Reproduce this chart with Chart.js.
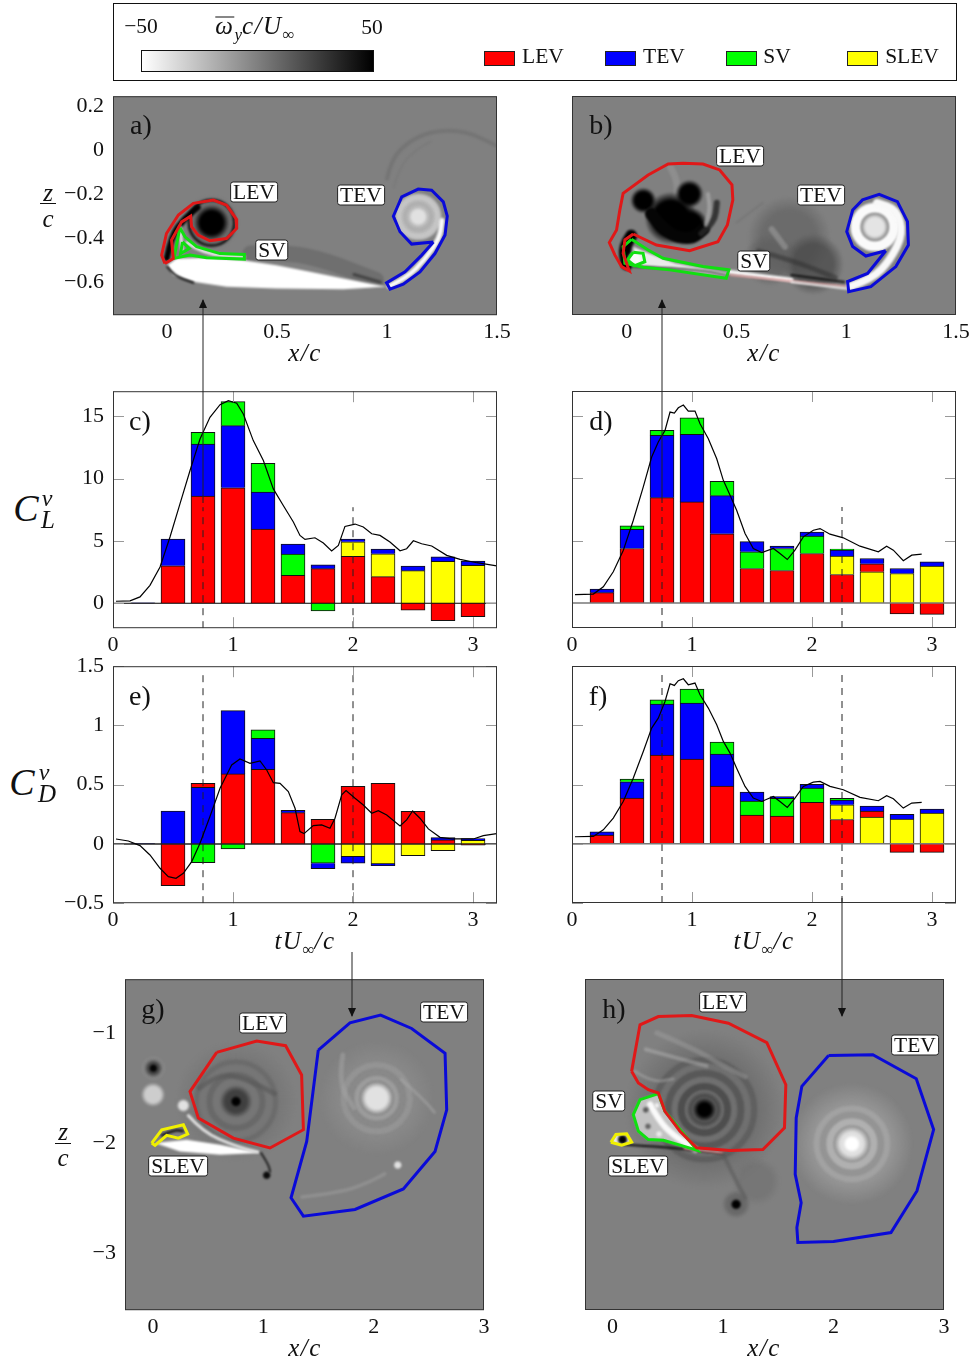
<!DOCTYPE html>
<html>
<head>
<meta charset="utf-8">
<title>Vortex contributions to lift and drag</title>
<script src="https://cdn.jsdelivr.net/npm/chart.js@4"></script>
<style>
html, body { margin: 0; padding: 0; background: #fff; }
#page { position: relative; width: 975px; height: 1364px; overflow: hidden; font-family: 'Liberation Serif', serif; color: #111; }
canvas { position: absolute; }
.t { position: absolute; transform: translate(-50%, -50%); white-space: nowrap; font-size: 21.5px; line-height: 1; }
.i { font-style: italic; }
.math { font-size: 25px; letter-spacing: 1.5px; }
.math sub { font-size: 17px; letter-spacing: 0; }
.bar-over { display: inline-block; border-top: 1px solid #111; line-height: 0.62em; padding-bottom: 2px; }
.tag { position: absolute; transform: translate(-50%, -50%); background: #fff; border: 1px solid #222; border-radius: 3px; padding: 0 2px; font-size: 21.5px; line-height: 19px; white-space: nowrap; }
.letter { font-size: 28px; }
sub { line-height: 0; }
#legend { position: absolute; left: 113px; top: 3px; width: 842px; height: 76px; border: 1px solid #111; }
#bar { position: absolute; left: 141px; top: 50px; width: 231px; height: 20px; border: 1px solid #111; background: linear-gradient(to right, #fff, #000); }
.swatch { position: absolute; top: 51px; width: 29px; height: 13px; border: 1px solid #222; }
.rule { position: absolute; background: #111; height: 1px; }
svg { position: absolute; left: 0; top: 0; }
</style>
</head>
<body>
<div id="page"></div>
<script>
// bar charts: one entry per time step
const barTimes = [0.25, 0.5, 0.75, 1, 1.25, 1.5, 1.75, 2, 2.25, 2.5, 2.75, 3];

const cLev  = [0, 3.0, 8.6, 9.25, 5.95, 2.24, 2.77, 3.76, 2.13, -0.56, -1.39, -1.07];
const cTev  = [0.03, 2.15, 4.17, 4.99, 2.96, 0.8, 0.32, 0.22, 0.38, 0.38, 0.37, 0.35];
const cSv   = [0, 0, 0.93, 1.92, 2.3, 1.71, -0.61, 0, 0, 0, 0, 0];
const cSlev = [0, 0, 0, 0, 0, 0, 0, 1.17, 1.84, 2.61, 3.36, 3.04];
const cOrder = ['T', 'LT', 'LTS', 'LTS', 'LTS', 'LST', 'LTS', 'LYT', 'LYT', 'LYT', 'LYT', 'LYT'];

const dLev  = [0.83, 4.37, 8.45, 8.11, 5.55, 2.77, 2.61, 3.97, 2.29, 0.64, -0.88, -0.91];
const dTev  = [0.29, 1.55, 4.99, 5.41, 3.06, 0.82, 0.19, 0.32, 0.48, 0.42, 0.4, 0.35];
const dSv   = [0, 0.27, 0.4, 1.33, 1.15, 1.34, 1.76, 1.39, 0.08, 0, 0, 0];
const dSlev = [0, 0, 0, 0, 0, 0, 0, 0, 1.47, 2.51, 2.37, 2.96];
const dOrder = ['LT', 'LTS', 'LTS', 'LTS', 'LTS', 'LST', 'LST', 'LST', 'LYTS', 'YLT', 'YLT', 'YLT'];

const eLev  = [0, -0.352, 0.034, 0.591, 0.63, 0.264, 0.208, 0.487, 0.512, 0.276, 0.034, -0.011];
const eTev  = [0.004, 0.278, 0.478, 0.534, 0.262, 0.02, -0.045, -0.056, -0.014, 0, 0.02, 0.014];
const eSv   = [0, 0, -0.158, -0.042, 0.07, 0, -0.163, 0, 0, 0, 0, 0];
const eSlev = [0, 0, 0, 0, 0, 0, 0, -0.107, -0.169, -0.098, -0.056, 0.031];
const eOrder = ['T', 'TL', 'TLS', 'LTS', 'LTS', 'LT', 'LST', 'LYT', 'LYT', 'LY', 'LTY', 'YTL'];

const fLev  = [0.073, 0.385, 0.748, 0.714, 0.487, 0.242, 0.233, 0.349, 0.205, 0.051, -0.073, -0.073];
const fTev  = [0.028, 0.138, 0.431, 0.473, 0.27, 0.076, 0.016, 0.031, 0.039, 0.042, 0.04, 0.034];
const fSv   = [0, 0.023, 0.036, 0.118, 0.101, 0.118, 0.15, 0.121, 0.015, 0, 0, 0];
const fSlev = [0, 0, 0, 0, 0, 0, 0, 0, 0.124, 0.225, 0.208, 0.259];
const fOrder = dOrder;

// total force curves
const cCurveT = [0.025, 0.142, 0.225, 0.308, 0.392, 0.475, 0.558, 0.642, 0.725, 0.808, 0.892, 0.961, 1.031, 1.086, 1.169, 1.253, 1.336, 1.419, 1.503, 1.558, 1.6, 1.683, 1.753, 1.822, 1.878, 1.933, 2.017, 2.086, 2.156, 2.225, 2.308, 2.392, 2.447, 2.503, 2.572, 2.656, 2.781, 2.892, 3.031, 3.197];
const cCurve  = [0.16, 0.19, 0.51, 1.44, 2.91, 5.31, 7.97, 10.64, 13.17, 14.91, 15.92, 16.24, 16.03, 15.17, 13.04, 11.44, 9.17, 7.84, 6.51, 5.44, 5.12, 5.25, 4.83, 4.19, 4.64, 6.16, 6.35, 6.11, 5.57, 5.44, 4.91, 4.21, 4.37, 5.01, 4.77, 4.59, 3.84, 3.52, 3.25, 2.99];

const dfCurveT = [0.025, 0.178, 0.261, 0.344, 0.428, 0.511, 0.594, 0.664, 0.719, 0.775, 0.817, 0.853, 0.886, 0.928, 0.969, 1.025, 1.067, 1.136, 1.206, 1.261, 1.317, 1.372, 1.442, 1.511, 1.581, 1.678, 1.733, 1.794, 1.858, 1.928, 2.011, 2.067, 2.15, 2.261, 2.4, 2.553, 2.622, 2.678, 2.761, 2.831, 2.914];
const dCurve = [0.67, 0.72, 1.31, 2.51, 4.24, 6.64, 9.31, 11.71, 12.91, 13.84, 15.31, 15.23, 15.65, 15.87, 15.39, 15.39, 14.37, 13.17, 11.57, 9.84, 8.64, 7.44, 5.57, 4.37, 4.05, 4.37, 3.97, 3.49, 4.24, 5.31, 5.84, 5.97, 5.52, 5.23, 4.56, 4.11, 4.56, 4.24, 3.39, 3.84, 3.92];
const fCurve = [0.059, 0.062, 0.118, 0.217, 0.358, 0.555, 0.779, 0.976, 1.06, 1.201, 1.35, 1.336, 1.376, 1.392, 1.342, 1.356, 1.257, 1.145, 1.004, 0.864, 0.765, 0.638, 0.484, 0.385, 0.357, 0.399, 0.357, 0.307, 0.385, 0.484, 0.52, 0.526, 0.484, 0.456, 0.391, 0.363, 0.405, 0.38, 0.301, 0.343, 0.349];

const eCurveT = [0.025, 0.128, 0.225, 0.308, 0.392, 0.461, 0.525, 0.586, 0.656, 0.725, 0.808, 0.892, 0.989, 1.058, 1.142, 1.225, 1.281, 1.336, 1.392, 1.461, 1.517, 1.558, 1.592, 1.669, 1.739, 1.808, 1.85, 1.906, 1.942, 2.017, 2.086, 2.156, 2.211, 2.281, 2.392, 2.447, 2.497, 2.558, 2.628, 2.725, 2.836, 3.003, 3.086, 3.197];
const eCurve  = [0.042, 0.025, -0.014, -0.093, -0.205, -0.276, -0.29, -0.248, -0.149, 0.006, 0.231, 0.47, 0.667, 0.717, 0.681, 0.7, 0.624, 0.517, 0.512, 0.442, 0.301, 0.104, 0.087, 0.155, 0.161, 0.132, 0.217, 0.414, 0.45, 0.385, 0.329, 0.259, 0.281, 0.245, 0.152, 0.203, 0.278, 0.217, 0.127, 0.056, 0.042, 0.042, 0.07, 0.087];

// vortex outlines on the flow fields, x/c and z/c pairs
const aLevLine = [[-0.009,-0.515],[-0.024,-0.477],[-0.002,-0.379],[0.052,-0.295],[0.12,-0.242],[0.211,-0.227],[0.271,-0.25],[0.314,-0.311],[0.317,-0.356],[0.271,-0.402],[0.195,-0.412],[0.142,-0.386],[0.112,-0.348],[0.108,-0.3],[0.067,-0.326],[0.021,-0.409],[0.029,-0.492],[-0.009,-0.515]];
const aSvLine = [[0.059,-0.352],[0.032,-0.492],[0.105,-0.477],[0.18,-0.489],[0.352,-0.495],[0.352,-0.474],[0.241,-0.47],[0.135,-0.439],[0.082,-0.394],[0.059,-0.352]];
const aSvInner = [[0.071,-0.417],[0.062,-0.47],[0.102,-0.447],[0.071,-0.417]];
const aTevLine = [[1.211,-0.417],[1.112,-0.427],[1.059,-0.371],[1.029,-0.3],[1.067,-0.212],[1.142,-0.177],[1.203,-0.182],[1.256,-0.235],[1.274,-0.3],[1.264,-0.386],[1.218,-0.47],[1.15,-0.553],[1.074,-0.609],[1.014,-0.632],[0.998,-0.603],[1.082,-0.553],[1.158,-0.477],[1.211,-0.417]];
const aFoil = [[0.002,-0.523],[0.044,-0.492],[0.195,-0.489],[0.347,-0.5],[0.498,-0.523],[0.65,-0.553],[0.802,-0.583],[0.998,-0.621],[0.802,-0.632],[0.498,-0.629],[0.271,-0.621],[0.12,-0.598],[0.029,-0.568]];

const bLevLine = [[0.029,-0.382],[0.135,-0.432],[0.286,-0.458],[0.415,-0.417],[0.458,-0.341],[0.483,-0.227],[0.479,-0.159],[0.423,-0.091],[0.347,-0.064],[0.256,-0.061],[0.188,-0.064],[0.097,-0.114],[-0.017,-0.197],[-0.032,-0.273],[-0.047,-0.364],[-0.08,-0.421],[-0.055,-0.477],[-0.024,-0.53],[0.011,-0.55],[-0.017,-0.47],[-0.009,-0.409],[0.029,-0.382]];
const bSvLine = [[0.021,-0.406],[-0.017,-0.439],[-0.009,-0.515],[0.074,-0.533],[0.195,-0.545],[0.453,-0.583],[0.465,-0.545],[0.347,-0.53],[0.165,-0.492],[0.097,-0.455],[0.021,-0.406]];
const bSvInner = [[0.029,-0.465],[0.002,-0.5],[0.036,-0.526],[0.082,-0.508],[0.074,-0.47],[0.029,-0.465]];
const bTevLine = [[1.18,-0.458],[1.089,-0.482],[1.029,-0.439],[1.002,-0.371],[1.029,-0.273],[1.074,-0.227],[1.15,-0.202],[1.233,-0.235],[1.279,-0.326],[1.283,-0.432],[1.226,-0.53],[1.112,-0.621],[1.011,-0.644],[1.006,-0.598],[1.097,-0.561],[1.18,-0.458]];

const gLevLine = [[0.577,-1.175],[0.94,-1.073],[1.202,-1.115],[1.347,-1.381],[1.363,-1.879],[1.06,-2.045],[0.728,-1.955],[0.411,-1.773],[0.335,-1.532],[0.577,-1.175]];
const gTevLine = [[1.498,-1.154],[1.785,-0.906],[2.063,-0.837],[2.344,-0.958],[2.647,-1.184],[2.662,-1.698],[2.556,-2.076],[2.269,-2.417],[1.831,-2.604],[1.363,-2.665],[1.251,-2.498],[1.393,-1.985],[1.498,-1.154]];
const gSlevLine = [[-0.012,-2],[0.079,-1.879],[0.275,-1.834],[0.314,-1.918],[0.23,-1.955],[0.124,-1.93],[0.018,-2.021],[-0.012,-2]];
const gFoil = [[0.018,-2],[0.305,-1.97],[0.607,-2.015],[0.97,-2.091],[0.607,-2.106],[0.245,-2.076]];

const hLevLine = [[0.172,-1.35],[0.248,-0.927],[0.414,-0.852],[0.716,-0.843],[1.048,-0.912],[1.396,-1.088],[1.568,-1.471],[1.556,-1.864],[1.36,-2.06],[1.063,-2.069],[0.761,-2.045],[0.61,-1.894],[0.474,-1.713],[0.414,-1.547],[0.323,-1.517],[0.233,-1.456],[0.172,-1.35]];
const hSvLine = [[0.414,-1.553],[0.248,-1.607],[0.187,-1.743],[0.233,-1.894],[0.323,-1.97],[0.459,-1.976],[0.61,-2.021],[0.767,-2.069],[0.61,-1.879],[0.474,-1.713],[0.414,-1.553]];
const hTevLine = [[1.955,-1.205],[2.356,-1.199],[2.749,-1.417],[2.906,-1.879],[2.755,-2.438],[2.52,-2.816],[2,-2.897],[1.677,-2.906],[1.668,-2.77],[1.707,-2.544],[1.653,-2.287],[1.662,-1.773],[1.713,-1.486],[1.955,-1.205]];
const hSlevLine = [[-0.015,-1.994],[0.03,-1.924],[0.127,-1.918],[0.172,-1.994],[0.082,-2.021],[-0.015,-1.994]];

// tick labels
const fieldXTicks = [0, 0.5, 1, 1.5];
const fieldZTicks = [0.2, 0, -0.2, -0.4, -0.6];
const wakeXTicks = [0, 1, 2, 3];
const wakeZTicks = [-1, -2, -3];
const timeTicks = [0, 1, 2, 3];
const liftTicks = [0, 5, 10, 15];
const dragTicks = [-0.5, 0, 0.5, 1, 1.5];

const colours = { L: '#ff0000', T: '#0000ff', S: '#00ff00', Y: '#ffff00' };
const page = document.getElementById('page');

function addText(html, x, y, cls, extra) {
    let el = document.createElement('div');
    el.className = cls || 't';
    el.innerHTML = html;
    el.style.left = x + 'px';
    el.style.top = y + 'px';
    if (extra) el.style.cssText += extra;
    page.appendChild(el);
}

// border and inward tick marks, pgfplots style
const framePlugin = {
    id: 'frame',
    afterDatasetsDraw(chart, args, opts) {
        let ctx = chart.ctx, a = chart.chartArea;
        ctx.save();
        if (opts.ticks) {
            ctx.strokeStyle = '#999';
            ctx.lineWidth = 1;
            ctx.beginPath();
            chart.scales.x.ticks.forEach(t => {
                let p = Math.round(chart.scales.x.getPixelForValue(t.value)) + 0.5;
                ctx.moveTo(p, a.top); ctx.lineTo(p, a.top + 11);
                ctx.moveTo(p, a.bottom); ctx.lineTo(p, a.bottom - 11);
            });
            chart.scales.y.ticks.forEach(t => {
                let p = Math.round(chart.scales.y.getPixelForValue(t.value)) + 0.5;
                ctx.moveTo(a.left, p); ctx.lineTo(a.left + 11, p);
                ctx.moveTo(a.right, p); ctx.lineTo(a.right - 11, p);
            });
            ctx.stroke();
        }
        ctx.strokeStyle = '#333';
        ctx.lineWidth = 1;
        ctx.strokeRect(a.left + 0.5, a.top + 0.5, a.width - 1, a.height - 1);
        ctx.restore();
    }
};

function gray(v, alpha) {
    return 'rgba(' + v + ',' + v + ',' + v + ',' + (alpha === undefined ? 1 : alpha) + ')';
}

// grey flow field behind the outlines
const fieldPlugin = {
    id: 'field',
    beforeDatasetsDraw(chart, args, opts) {
        if (!opts.ops) return;
        let ctx = chart.ctx, a = chart.chartArea, sx = chart.scales.x, sy = chart.scales.y;
        let unit = sx.getPixelForValue(1) - sx.getPixelForValue(0);
        let px = p => [sx.getPixelForValue(p[0]), sy.getPixelForValue(p[1])];
        ctx.save();
        ctx.beginPath();
        ctx.rect(a.left, a.top, a.width, a.height);
        ctx.clip();
        ctx.fillStyle = '#808080';
        ctx.fillRect(a.left, a.top, a.width, a.height);
        ctx.filter = 'blur(1px)';
        ctx.lineCap = 'round';
        ctx.lineJoin = 'round';
        opts.ops.forEach(op => {
            if (op[0] === 'blob') {
                let c = px([op[1], op[2]]), r = op[3] * unit, al = op[5] === undefined ? 1 : op[5];
                let g = ctx.createRadialGradient(c[0], c[1], 0, c[0], c[1], r);
                g.addColorStop(0, gray(op[4], al));
                g.addColorStop(0.65, gray(op[4], al));
                g.addColorStop(1, gray(op[4], 0));
                ctx.fillStyle = g;
                ctx.beginPath();
                ctx.arc(c[0], c[1], r, 0, Math.PI * 2);
                ctx.fill();
            } else if (op[0] === 'ring') {
                let c = px([op[1], op[2]]);
                ctx.strokeStyle = gray(op[4], op[6] === undefined ? 1 : op[6]);
                ctx.lineWidth = op[5];
                ctx.beginPath();
                ctx.arc(c[0], c[1], op[3] * unit, 0, Math.PI * 2);
                ctx.stroke();
            } else if (op[0] === 'stroke') {
                let pts = op[1].map(px);
                ctx.strokeStyle = typeof op[2] === 'string' ? op[2] : gray(op[2], op[4] === undefined ? 1 : op[4]);
                ctx.lineWidth = op[3];
                ctx.beginPath();
                ctx.moveTo(pts[0][0], pts[0][1]);
                for (let i = 1; i < pts.length - 1; i++) {
                    ctx.quadraticCurveTo(pts[i][0], pts[i][1], (pts[i][0] + pts[i + 1][0]) / 2, (pts[i][1] + pts[i + 1][1]) / 2);
                }
                let last = pts[pts.length - 1];
                ctx.lineTo(last[0], last[1]);
                ctx.stroke();
            } else if (op[0] === 'fill') {
                let pts = op[1].map(px);
                ctx.fillStyle = gray(op[2]);
                ctx.beginPath();
                pts.forEach((p, i) => i ? ctx.lineTo(p[0], p[1]) : ctx.moveTo(p[0], p[1]));
                ctx.closePath();
                ctx.fill();
            }
        });
        ctx.restore();
    }
};

function numberLabel(v) {
    return String(v).replace('-', '\u2212');
}

function makeScale(lo, hi, ticks, showLabels, thickness, pad) {
    return {
        type: 'linear', min: lo, max: hi, stacked: true, offset: false,
        grid: { display: false, drawTicks: false },
        border: { display: false },
        afterBuildTicks: s => { s.ticks = ticks.map(v => ({ value: v })); },
        afterFit: s => {
            if (s.isHorizontal()) s.height = thickness; else s.width = thickness;
        },
        ticks: {
            display: showLabels, autoSkip: false, maxRotation: 0, minRotation: 0,
            padding: pad, color: '#111',
            font: { family: 'Liberation Serif', size: 22 },
            callback: numberLabel
        }
    };
}

// places the canvas so that the plot area lands on the given rectangle
function makePanel(box, xScale, yScale, datasets, type, plugOpts) {
    let left = 60, top = 6, right = 24, bottom = 34;
    let canvas = document.createElement('canvas');
    canvas.width = box.w + left + right;
    canvas.height = box.h + top + bottom;
    page.appendChild(canvas);
    let chart = new Chart(canvas.getContext('2d'), {
        type: type,
        data: { datasets: datasets },
        options: {
            responsive: false, maintainAspectRatio: false, animation: false, devicePixelRatio: 1,
            layout: { padding: { top: top, right: right, left: 0, bottom: 0 } },
            scales: { x: xScale, y: yScale },
            plugins: { legend: { display: false }, tooltip: { enabled: false }, frame: { ticks: plugOpts.ticks }, field: { ops: plugOpts.ops } }
        },
        plugins: [fieldPlugin, framePlugin]
    });
    // tick labels can push the plot area in, so grow the canvas by what was lost
    let a = chart.chartArea;
    chart.resize(chart.width + box.w - a.width, chart.height + box.h - a.height);
    canvas.style.left = (box.x - chart.chartArea.left) + 'px';
    canvas.style.top = (box.y - chart.chartArea.top) + 'px';
    return chart;
}

function lineSet(points, colour, width, dash, stack) {
    return {
        type: 'line', stack: stack, order: -1, data: points,
        borderColor: colour, borderWidth: width, borderDash: dash || [],
        pointRadius: 0, tension: 0, fill: false
    };
}

function pairs(list) {
    return list.map(p => ({ x: p[0], y: p[1] }));
}

function barLayers(vals, order) {
    let layers = [];
    for (let i = 0; i < 4; i++) {
        layers.push({
            type: 'bar', barThickness: 24,
            data: barTimes.map((t, b) => {
                let k = order[b][i];
                return { x: t, y: k && vals[k][b] !== 0 ? vals[k][b] : null };
            }),
            backgroundColor: order.map(o => colours[o[i]] || '#000'),
            borderColor: '#111', borderWidth: 1
        });
    }
    return layers;
}

function makeBarPanel(box, yRange, yTicks, showY, vals, order, curveT, curve, marks, zeroCol) {
    let sets = [
        lineSet(curveT.map((t, i) => ({ x: t, y: curve[i] })), '#000', 1.2, null, 'curve'),
        lineSet([{ x: 0, y: 0 }, { x: 3.2, y: 0 }], zeroCol, zeroCol === '#000' ? 1 : 1.5, null, 'zero')
    ];
    marks.forEach((m, i) => {
        sets.push(lineSet([{ x: m[0], y: m[1] }, { x: m[0], y: m[2] }], '#222', 1, [7, 6], 'mark' + i));
    });
    sets = sets.concat(barLayers(vals, order));
    makePanel(box, makeScale(0, 3.2, timeTicks, true, 34, 4), makeScale(yRange[0], yRange[1], yTicks, showY, 60, 9), sets, 'bar', { ticks: true });
}

function makeFieldPanel(box, xr, zr, xt, zt, showZ, outlines, ops) {
    let sets = outlines.map((o, i) => lineSet(pairs(o[0]), o[1], o[2] || 3, null, 'o' + i));
    makePanel(box, makeScale(xr[0], xr[1], xt, true, 34, 4), makeScale(zr[0], zr[1], zt, showZ, 60, 9), sets, 'scatter', { ops: ops });
}

const RED = '#e01818', BLUE = '#0a0ad8', GREEN = '#10e010', YELLOW = '#f0f000';

// panels a, b, g and h: field shading is only a rough backdrop
const aField = [
    ['stroke', [[1.0,-0.13],[1.02,-0.04],[1.1,0.04],[1.2,0.085],[1.35,0.09],[1.5,0.02]], 105, 4, 0.5],
    ['stroke', [[1.03,-0.17],[1.06,-0.07],[1.13,0],[1.2,0.04]], 110, 1.5, 0.4],
    ['stroke', [[0.38,-0.47],[0.55,-0.465],[0.72,-0.5],[0.95,-0.59]], 85, 16, 0.4],
    ['stroke', [[0.85,-0.565],[0.97,-0.6]], 50, 3, 0.7],
    ['blob', 0.203, -0.33, 0.125, 105],
    ['ring', 0.203, -0.33, 0.103, 15, 2.5],
    ['blob', 0.203, -0.33, 0.08, 0],
    ['stroke', [[0.0,-0.49],[0.02,-0.39],[0.08,-0.31],[0.14,-0.26]], 0, 6],
    ['stroke', [[0.06,-0.35],[0.07,-0.46]], 235, 3],
    ['stroke', [[0.09,-0.42],[0.17,-0.475],[0.35,-0.485]], 240, 3],
    ['fill', aFoil, 255],
    ['stroke', [[0.002,-0.53],[0.03,-0.57],[0.12,-0.602]], 0, 2],
    ['blob', 1.142, -0.303, 0.115, 185],
    ['ring', 1.142, -0.303, 0.09, 205, 6, 0.8],
    ['ring', 1.142, -0.303, 0.06, 170, 3, 0.7],
    ['blob', 1.142, -0.303, 0.045, 225],
    ['stroke', [[1.01,-0.618],[1.09,-0.58],[1.17,-0.5],[1.24,-0.4],[1.25,-0.32]], 250, 5]
];
const bField = [
    ['blob', 0.74, -0.4, 0.19, 100, 0.75],
    ['blob', 0.85, -0.52, 0.14, 70, 0.7],
    ['blob', 0.65, -0.5, 0.12, 95, 0.7],
    ['stroke', [[0.6,-0.46],[0.75,-0.5],[0.95,-0.58]], 45, 5, 0.5],
    ['stroke', [[0.66,-0.36],[0.72,-0.44]], 165, 6, 0.5],
    ['stroke', [[0.5,-0.33],[0.62,-0.24]], 110, 2, 0.5],
    ['stroke', [[0.2,-0.08],[0.25,-0.17],[0.18,-0.3]], 155, 7, 0.5],
    ['blob', 0.075, -0.23, 0.06, 0],
    ['blob', 0.285, -0.2, 0.065, 0],
    ['blob', 0.2, -0.31, 0.12, 0],
    ['blob', 0.29, -0.34, 0.08, 0],
    ['stroke', [[0.11,-0.29],[0.18,-0.38],[0.29,-0.41],[0.35,-0.36]], 5, 12],
    ['stroke', [[0.34,-0.38],[0.4,-0.33],[0.41,-0.24]], 40, 6, 0.85],
    ['stroke', [[0.36,-0.34],[0.38,-0.28],[0.37,-0.2]], 165, 4, 0.8],
    ['stroke', [[0.02,-0.39],[-0.015,-0.44],[0.0,-0.52]], 0, 12],
    ['fill', [[0.03,-0.44],[0.1,-0.47],[0.22,-0.515],[0.46,-0.56],[0.46,-0.575],[0.2,-0.54],[0.03,-0.525]], 235],
    ['stroke', [[0.03,-0.53],[0.3,-0.54],[0.46,-0.57]], 30, 1.5],
    ['blob', 0.036, -0.495, 0.035, 250],
    ['stroke', [[0.47,-0.555],[0.75,-0.59]], 250, 4],
    ['stroke', [[0.47,-0.568],[1.0,-0.62]], '#e89a9a', 1.5],
    ['stroke', [[0.75,-0.568],[0.99,-0.6]], 15, 2],
    ['stroke', [[0.75,-0.6],[1.0,-0.63]], 245, 2],
    ['ring', 1.13, -0.35, 0.088, 250, 10],
    ['blob', 1.13, -0.35, 0.065, 228],
    ['stroke', [[1.02,-0.62],[1.12,-0.585],[1.2,-0.5],[1.26,-0.38],[1.23,-0.27],[1.14,-0.24]], 248, 8]
];
const gField = [
    ['blob', 0.752, -1.622, 0.55, 108, 0.5],
    ['ring', 0.752, -1.622, 0.36, 90, 5, 0.35],
    ['ring', 0.752, -1.622, 0.24, 85, 6, 0.4],
    ['stroke', [[0.42,-1.5],[0.6,-1.36],[0.85,-1.42],[1.1,-1.55]], 85, 5, 0.55],
    ['blob', 0.752, -1.622, 0.15, 55, 0.85],
    ['blob', 0.752, -1.622, 0.05, 0],
    ['blob', 0.003, -1.32, 0.08, 70],
    ['blob', 0.003, -1.32, 0.04, 5],
    ['ring', 0.003, -1.32, 0.1, 160, 1, 0.4],
    ['blob', 0.0, -1.56, 0.11, 205],
    ['blob', 0.275, -1.659, 0.06, 225],
    ['stroke', [[0.32,-1.75],[0.45,-1.9],[0.75,-2.03],[0.95,-2.08]], 225, 3],
    ['stroke', [[0.08,-1.93],[0.2,-1.88],[0.27,-1.89]], 20, 2.5],
    ['fill', gFoil, 255],
    ['stroke', [[0.98,-2.09],[1.05,-2.2],[1.06,-2.26]], 30, 2],
    ['blob', 1.03, -2.293, 0.04, 10],
    ['blob', 2.027, -1.592, 0.52, 145, 0.5],
    ['ring', 2.027, -1.592, 0.18, 175, 5, 0.5],
    ['ring', 2.027, -1.592, 0.3, 165, 6, 0.4],
    ['stroke', [[1.72,-1.2],[1.68,-1.45],[1.82,-1.68]], 165, 5, 0.5],
    ['stroke', [[2.25,-1.42],[2.45,-1.6],[2.55,-1.72]], 170, 3, 0.5],
    ['blob', 2.027, -1.592, 0.15, 225],
    ['stroke', [[1.35,-2.49],[1.7,-2.45],[1.95,-2.36],[2.1,-2.28]], 155, 3.5, 0.6],
    ['blob', 2.218, -2.2, 0.04, 225]
];
const hField = [
    ['blob', 0.831, -1.698, 0.72, 98, 0.55],
    ['ring', 0.831, -1.698, 0.45, 80, 6, 0.5],
    ['ring', 0.831, -1.698, 0.33, 70, 7, 0.55],
    ['ring', 0.831, -1.698, 0.21, 55, 7, 0.6],
    ['blob', 0.831, -1.698, 0.17, 60],
    ['ring', 0.831, -1.698, 0.11, 90, 3, 0.8],
    ['blob', 0.831, -1.698, 0.09, 0],
    ['stroke', [[0.4,-1.0],[0.75,-1.15],[1.0,-1.3],[1.2,-1.4]], 165, 5, 0.4],
    ['stroke', [[0.3,-1.15],[0.55,-1.22],[0.85,-1.3]], 185, 4, 0.45],
    ['stroke', [[0.2,-1.35],[0.35,-1.45],[0.55,-1.42]], 175, 3, 0.45],
    ['fill', hSvLine, 195],
    ['stroke', [[0.34,-1.65],[0.42,-1.8],[0.55,-1.93],[0.75,-2.06]], 250, 6],
    ['blob', 0.3, -1.7, 0.03, 90],
    ['blob', 0.4, -1.66, 0.025, 240],
    ['blob', 0.32, -1.85, 0.03, 100],
    ['blob', 0.42, -1.92, 0.03, 235],
    ['stroke', [[0.1,-2.015],[0.5,-2.04],[1.0,-2.095]], 10, 2],
    ['stroke', [[0.65,-2.05],[1.0,-2.09]], '#f0a0a0', 2],
    ['fill', hSlevLine, 235],
    ['blob', 0.09, -1.97, 0.05, 0],
    ['blob', 1.3, -2.35, 0.22, 108, 0.5],
    ['stroke', [[1.0,-2.1],[1.12,-2.35],[1.2,-2.5]], 85, 4, 0.5],
    ['blob', 1.118, -2.559, 0.13, 95, 0.7],
    ['blob', 1.118, -2.559, 0.05, 0],
    ['blob', 2.166, -2.009, 0.55, 165, 0.55],
    ['ring', 2.166, -2.009, 0.32, 180, 6, 0.45],
    ['ring', 2.166, -2.009, 0.2, 195, 7, 0.6],
    ['blob', 2.166, -2.009, 0.16, 225],
    ['blob', 2.166, -2.009, 0.08, 255]
];

const fieldXA = [-0.245, 1.5], fieldZ = [-0.75, 0.245];
const wakeX = [-0.254, 3], wakeZ = [-3.52, -0.51];

makeFieldPanel({ x: 113, y: 96, w: 384, h: 219 }, fieldXA, fieldZ, fieldXTicks, fieldZTicks, true,
    [[aLevLine, RED], [aTevLine, BLUE], [aSvLine, GREEN], [aSvInner, GREEN]], aField);
makeFieldPanel({ x: 572, y: 96, w: 384, h: 219 }, [-0.25, 1.5], fieldZ, fieldXTicks, fieldZTicks, false,
    [[bLevLine, RED], [bTevLine, BLUE], [bSvLine, GREEN], [bSvInner, GREEN]], bField);

makeBarPanel({ x: 113, y: 391, w: 384, h: 237 }, [-2, 17], liftTicks, true,
    { L: cLev, T: cTev, S: cSv, Y: cSlev }, cOrder, cCurveT, cCurve, [[0.75, -2, 7.7], [2, -2, 7.7]], '#000');
makeBarPanel({ x: 572, y: 391, w: 384, h: 237 }, [-2, 17], liftTicks, false,
    { L: dLev, T: dTev, S: dSv, Y: dSlev }, dOrder, dfCurveT, dCurve, [[0.75, -2, 7.7], [2.25, -2, 7.7]], '#777');
makeBarPanel({ x: 113, y: 666, w: 384, h: 237 }, [-0.5, 1.5], dragTicks, true,
    { L: eLev, T: eTev, S: eSv, Y: eSlev }, eOrder, eCurveT, eCurve, [[0.75, -0.5, 1.45], [2, -0.5, 1.45]], '#222');
makeBarPanel({ x: 572, y: 666, w: 384, h: 237 }, [-0.5, 1.5], dragTicks, false,
    { L: fLev, T: fTev, S: fSv, Y: fSlev }, fOrder, dfCurveT, fCurve, [[0.75, -0.5, 1.45], [2.25, -0.5, 1.45]], '#777');

makeFieldPanel({ x: 125, y: 979, w: 359, h: 331 }, wakeX, wakeZ, wakeXTicks, wakeZTicks, true,
    [[gLevLine, RED], [gTevLine, BLUE], [gSlevLine, YELLOW]], gField);
makeFieldPanel({ x: 585, y: 979, w: 359, h: 331 }, [-0.25, 3], wakeZ, wakeXTicks, wakeZTicks, false,
    [[hLevLine, RED], [hTevLine, BLUE], [hSvLine, GREEN], [hSlevLine, YELLOW]], hField);

// legend box
let legend = document.createElement('div');
legend.id = 'legend';
page.appendChild(legend);
let cbar = document.createElement('div');
cbar.id = 'bar';
page.appendChild(cbar);
addText('\u221250', 141, 27);
addText('<span class="i"><span class="bar-over">\u03c9</span><sub>y</sub>c/U</span><sub>\u221e</sub>', 255, 25, 't math');
addText('50', 372, 28);
[['L', 484, 'LEV', 543], ['T', 605, 'TEV', 664], ['S', 726, 'SV', 777], ['Y', 847, 'SLEV', 912]].forEach(s => {
    let sw = document.createElement('div');
    sw.className = 'swatch';
    sw.style.left = s[1] + 'px';
    sw.style.background = colours[s[0]];
    page.appendChild(sw);
    addText(s[2], s[3], 57);
});

// panel letters
[['a)', 141, 125], ['b)', 601, 125], ['c)', 140, 421], ['d)', 601, 421], ['e)', 140, 696], ['f)', 598, 696], ['g)', 153, 1009], ['h)', 614, 1009]]
    .forEach(l => addText(l[0], l[1], l[2], 't letter'));

// vortex tags
[['LEV', 254, 192], ['TEV', 361, 195], ['SV', 272, 250], ['LEV', 740, 156], ['TEV', 821, 195], ['SV', 754, 261],
 ['LEV', 263, 1023], ['TEV', 444, 1012], ['SLEV', 178, 1166], ['LEV', 723, 1002], ['TEV', 915, 1045], ['SV', 609, 1101], ['SLEV', 638, 1166]]
    .forEach(l => addText(l[0], l[1], l[2], 'tag'));

// axis titles
addText('x/c', 305, 352, 't i math');
addText('x/c', 764, 352, 't i math');
addText('x/c', 305, 1347, 't i math');
addText('x/c', 764, 1347, 't i math');
addText('<span class="i">tU</span><sub>\u221e</sub><span class="i">/c</span>', 305, 940, 't math');
addText('<span class="i">tU</span><sub>\u221e</sub><span class="i">/c</span>', 764, 940, 't math');

[[48, 192, 203, 218], [63, 1131, 1143, 1157]].forEach(f => {
    addText('z', f[0], f[1], 't i', 'font-size:25px');
    let r = document.createElement('div');
    r.className = 'rule';
    r.style.left = (f[0] - 8) + 'px';
    r.style.top = f[2] + 'px';
    r.style.width = '16px';
    page.appendChild(r);
    addText('c', f[0], f[3], 't i', 'font-size:25px');
});

addText('C', 26, 508, 't i', 'font-size:38px');
addText('v', 47, 498, 't i', 'font-size:24px');
addText('L', 48, 519, 't i', 'font-size:25px');
addText('C', 22, 782, 't i', 'font-size:38px');
addText('v', 44, 772, 't i', 'font-size:24px');
addText('D', 47, 793, 't i', 'font-size:25px');

// time markers joining the bar panels to the flow fields
const arrowStyle = 'stroke="#222" stroke-width="1" marker-end="url(#head)"';
let svg = '<svg width="975" height="1364"><defs><marker id="head" markerWidth="9" markerHeight="8" refX="8" refY="4" orient="auto" markerUnits="userSpaceOnUse"><path d="M0,0 L9,4 L0,8 Z" fill="#111"/></marker></defs>';
[[203, 503, 300], [662, 503, 300], [352, 952, 1016], [842, 898, 1016]].forEach(a => {
    svg += '<line x1="' + a[0] + '" y1="' + a[1] + '" x2="' + a[0] + '" y2="' + a[2] + '" ' + arrowStyle + '/>';
});
svg += '</svg>';
let holder = document.createElement('div');
holder.innerHTML = svg;
page.appendChild(holder);
</script>
</body>
</html>
